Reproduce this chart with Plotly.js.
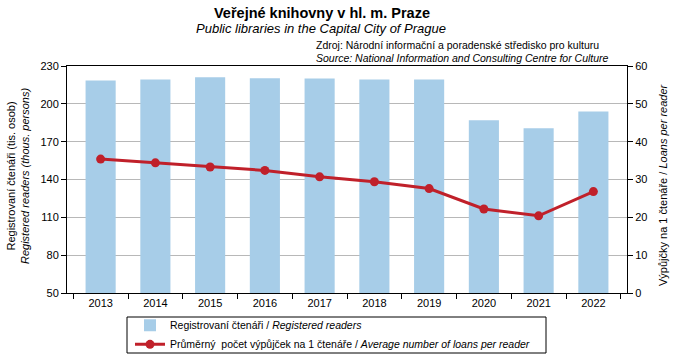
<!DOCTYPE html>
<html>
<head>
<meta charset="utf-8">
<script src="https://cdn.plot.ly/plotly-3.0.1.min.js"></script>
<style>html,body{margin:0;padding:0;background:#fff;}#chart{width:676px;height:360px;}</style>
</head>
<body>
<div id="chart"></div>
<script>
const years = ["2013","2014","2015","2016","2017","2018","2019","2020","2021","2022"];
const readers = [218.6, 219.3, 221.0, 220.2, 220.1, 219.3, 219.3, 187.0, 180.7, 194.0];
const loansPerReader = [35.4, 34.4, 33.3, 32.4, 30.7, 29.4, 27.6, 22.2, 20.4, 26.8];
const leftTicks = [50, 80, 110, 140, 170, 200, 230];
const rightTicks = [0, 10, 20, 30, 40, 50, 60];

const F = "Liberation Sans, Arial, sans-serif";
// paper: x 67..627 (560px), y 66..360 (294px)
const PX = v => (v - 67) / 560;
const PY = v => (360 - v) / 294;

const traces = [
  {
    type: "bar", x: years, y: readers, name: "Registrovaní čtenáři / <i>Registered readers</i>",
    marker: {color: "#a7cde8"}, yaxis: "y", hoverinfo: "x+y"
  },
  {
    type: "scatter", mode: "lines+markers", x: years, y: loansPerReader, yaxis: "y2",
    name: "Průměrný  počet výpůjček na 1 čtenáře / <i>Average number of loans per reader</i>",
    line: {color: "#c0202a", width: 3}, marker: {color: "#c0202a", size: 9}
  }
];
const layout = {
  width: 676, height: 360,
  margin: {l: 67, r: 49, t: 66, b: 0},
  paper_bgcolor: "#fff", plot_bgcolor: "#fff",
  font: {family: F, size: 11, color: "#000"},
  bargap: 0.45,
  showlegend: true,
  legend: {
    x: PX(130), xanchor: "left", y: 0.004, yanchor: "bottom",
    orientation: "v", borderwidth: 0, bgcolor: "rgba(0,0,0,0)",
    font: {family: F, size: 10.5, color: "#000"},
    tracegroupgap: 0, itemwidth: 30
  },
  xaxis: {
    type: "category", showline: true, linecolor: "#000", linewidth: 1,
    ticks: "outside", tickson: "boundaries", ticklen: 5, tickcolor: "#000",
    showgrid: false, mirror: true, tickfont: {size: 11}, anchor: "y"
  },
  yaxis: {
    domain: [PY(293), 1],
    range: [50, 230], tickvals: leftTicks, ticks: "outside", ticklen: 5, tickcolor: "#000",
    showline: true, linecolor: "#000", linewidth: 1,
    showgrid: true, gridcolor: "#b8b8b8", gridwidth: 1, zeroline: false,
    tickfont: {size: 11}
  },
  yaxis2: {
    range: [0, 60], tickvals: rightTicks, overlaying: "y", side: "right",
    ticks: "outside", ticklen: 5, tickcolor: "#000",
    showline: true, linecolor: "#000", linewidth: 1, showgrid: false, zeroline: false,
    tickfont: {size: 11}
  },
  shapes: [
    {type: "rect", xref: "paper", yref: "paper", x0: PX(127), x1: PX(546), y0: PY(353), y1: PY(317),
     line: {color: "#000", width: 1}, fillcolor: "rgba(0,0,0,0)"}
  ],
  annotations: [
    {text: "<b>Veřejné knihovny v hl. m. Praze</b>", xref: "paper", yref: "paper",
     x: PX(322), y: 1, yshift: 53, xanchor: "center", yanchor: "middle", showarrow: false,
     font: {family: F, size: 14.5}},
    {text: "<i>Public libraries in the Capital City of Prague</i>", xref: "paper", yref: "paper",
     x: PX(321), y: 1, yshift: 38, xanchor: "center", yanchor: "middle", showarrow: false,
     font: {family: F, size: 13}},
    {text: "Zdroj: Národní informační a poradenské středisko pro kulturu", xref: "paper", yref: "paper",
     x: PX(314), y: 1, yshift: 21, xanchor: "left", yanchor: "middle", showarrow: false,
     font: {family: F, size: 10.5}},
    {text: "<i>Source: National Information and Consulting Centre for Culture</i>", xref: "paper", yref: "paper",
     x: PX(314), y: 1, yshift: 8, xanchor: "left", yanchor: "middle", showarrow: false,
     font: {family: F, size: 10.5}},
    {text: "Registrovaní čtenáři (tis. osob)<br><i>Registered readers (thous. persons)</i>",
     xref: "paper", yref: "paper", x: PX(18), y: PY(176), xanchor: "center", yanchor: "middle",
     textangle: -90, showarrow: false, font: {family: F, size: 11}},
    {text: "Výpůjčky na 1 čtenáře / <i>Loans per reader</i>",
     xref: "paper", yref: "paper", x: PX(663), y: PY(185), xanchor: "center", yanchor: "middle",
     textangle: -90, showarrow: false, font: {family: F, size: 11}}
  ]
};
Plotly.newPlot("chart", traces, layout, {displayModeBar: false, staticPlot: true});
</script>
</body>
</html>
